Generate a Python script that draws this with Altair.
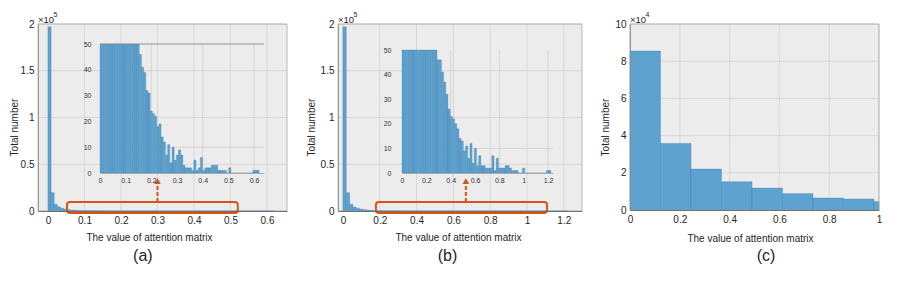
import altair as alt
import pandas as pd

# ---------------- data ----------------
# (a) histogram, bin width 0.0085
a_bin_width = 0.0085
a_counts = [197000, 19600, 7200, 4600, 2900, 2100, 1500, 1100, 800, 600,
            450, 340, 260, 200, 150, 115, 85, 62, 46, 41,
            39, 32, 31, 24, 23, 22, 18, 19, 14, 12,
            7, 11, 4, 10, 5, 7, 9, 7, 3, 2,
            2, 2, 1, 5, 1, 2, 6, 1, 2, 2,
            2, 3, 3, 3, 1, 1, 1, 1, 0, 2,
            0, 0, 0, 0, 0, 0, 0, 0, 0, 0,
            1, 1, 1]
# (b) histogram, bin width 0.018
b_bin_width = 0.018
b_counts = [197000, 19600, 7200, 4200, 2800, 2000, 1400, 1000, 700, 500,
            360, 260, 190, 140, 100, 70, 46, 46, 41, 37,
            32, 26, 23, 22, 20, 18, 14, 13, 9, 11,
            6, 12, 4, 10, 3, 7, 3, 3, 2, 2,
            2, 7, 1, 6, 2, 2, 2, 3, 3, 2,
            1, 1, 1, 0, 0, 2, 0, 0, 0, 0,
            0, 0, 0, 0, 0, 0, 1, 1]
# (c) histogram
c_edges = [0, 0.1225, 0.245, 0.3675, 0.49, 0.6125, 0.735, 0.8575, 0.98, 1.1025]
c_counts = [85500, 35800, 22000, 15200, 11800, 8800, 6450, 5900, 4500]

# tick values
a_xticks = [0, 0.1, 0.2, 0.3, 0.4, 0.5, 0.6]
b_xticks = [0, 0.2, 0.4, 0.6, 0.8, 1.0, 1.2]
c_xticks = [0, 0.2, 0.4, 0.6, 0.8, 1.0]
ab_yticks = [0, 50000, 100000, 150000, 200000]
c_yticks = [0, 20000, 40000, 60000, 80000, 100000]
inset_yticks = [0, 10, 20, 30, 40, 50]
a_inset_grid = [0.2, 0.4, 0.6]
b_inset_grid = [0.4, 0.8, 1.2]

# annotation boxes / arrows (data units of the main panels)
a_box = [0.052, 0.52, -2100, 9600]
b_box = [0.179, 1.109, -2100, 9600]
a_arrow = [0.30, 9600, 29000, 32000]
b_arrow = [0.668, 9600, 29000, 32000]
panel_labels = ["(a)", "(b)", "(c)"]
exponents = ["5", "5", "4"]

# ---------------- styling / layout ----------------
FONT = "Liberation Sans"
BAR_FILL = "#5ea3d0"
BAR_EDGE = "#2f6f9f"
BG = "#ececec"
GRID = "#d3d3d3"
ORANGE = "#d95319"
TXT = "#262626"
H = 267
NUM = "'' + datum.value"


def bars_df(counts, width):
    return pd.DataFrame({
        "x0": [i * width for i in range(len(counts))],
        "x1": [(i + 1) * width for i in range(len(counts))],
        "count": counts,
    })


def main_panel(bars, xdom, xr, ydom, yr, xticks, yticks, ydiv, ytitle_dx,
               xtitle_x, xtitle_y, label, label_xy, expo, box=None, arrow=None,
               clampx=False):
    xs = alt.Scale(domain=xdom, range=xr, nice=False, zero=False, clamp=clampx)
    ys = alt.Scale(domain=ydom, range=yr, nice=False, zero=False)
    xaxis = alt.Axis(orient="bottom", offset=yr[0] - H, values=xticks, labelExpr=NUM,
                     title="The value of attention matrix", titleX=xtitle_x, titleY=xtitle_y,
                     titleBaseline="middle", titleAlign="center", titleAngle=0,
                     titleFontSize=10, titleFontWeight="normal", titleColor=TXT, titleFont=FONT,
                     labelFontSize=10, labelColor=TXT, labelFont=FONT, labelPadding=4,
                     labelFlush=False, labelOverlap=False, ticks=False, grid=False,
                     domainColor="#5a5a5a", domainWidth=0.8, zindex=1)
    yaxis = alt.Axis(orient="left", offset=-xr[0], values=yticks,
                     labelExpr=f"'' + (datum.value / {ydiv})",
                     title="Total number", titleX=ytitle_dx, titleY=119,
                     titleAngle=270, titleBaseline="middle", titleAlign="center",
                     titleFontSize=10, titleFontWeight="normal", titleColor=TXT, titleFont=FONT,
                     labelFontSize=10, labelColor=TXT, labelFont=FONT, labelPadding=4,
                     labelFlush=False, labelOverlap=False, ticks=False, grid=False,
                     domainColor="#8a8a8a", domainWidth=0.8, zindex=1)
    X = lambda f: alt.X(f, type="quantitative", scale=xs, axis=xaxis)
    Y = lambda f: alt.Y(f, type="quantitative", scale=ys, axis=yaxis)

    frame = pd.DataFrame({"x": [xdom[0]], "x2": [xdom[1]], "y": [ydom[0]], "y2": [ydom[1]]})
    bg = alt.Chart(frame).mark_rect(fill=BG).encode(x=X("x"), x2="x2", y=Y("y"), y2="y2")
    vg = alt.Chart(pd.DataFrame({"x": xticks, "y": ydom[0], "y2": ydom[1]})).mark_rule(
        color=GRID, strokeWidth=0.8).encode(x=X("x"), y=Y("y"), y2="y2")
    hg = alt.Chart(pd.DataFrame({"y": yticks, "x": xdom[0], "x2": xdom[1]})).mark_rule(
        color=GRID, strokeWidth=0.8).encode(y=Y("y"), x=X("x"), x2="x2")
    box_r = alt.Chart(frame).mark_rect(fillOpacity=0, stroke="#a0a0a0", strokeWidth=0.7).encode(
        x=X("x"), x2="x2", y=Y("y"), y2="y2")
    br = alt.Chart(bars.rename(columns={"x0": "x", "count": "y"})).mark_rect(
        fill=BAR_FILL, stroke=BAR_EDGE, strokeWidth=0.3).encode(
        x=X("x"), x2="x1", y=Y("y"), y2=alt.datum(0))

    exp_df = pd.DataFrame({"x": [xdom[0]], "y": [ydom[1]]})
    exp1 = alt.Chart(exp_df).mark_text(text="\u00d710", align="left", baseline="alphabetic",
                                       dy=-1.5, dx=0, fontSize=9.5, font=FONT, color=TXT).encode(
        x=X("x"), y=Y("y"))
    exp2 = alt.Chart(exp_df).mark_text(text=expo, align="left",
                                       baseline="alphabetic", dy=-7, dx=15.5, fontSize=7,
                                       font=FONT, color=TXT).encode(x=X("x"), y=Y("y"))
    lab = alt.Chart(pd.DataFrame({"x": [label_xy[0]], "y": [label_xy[1]], "t": [label]})).mark_text(
        align="center", baseline="middle", fontSize=16, font=FONT, color=TXT).encode(
        x=X("x"), y=Y("y"), text="t:N")
    layers = [bg, vg, hg, br, box_r, exp1, exp2, lab]
    if box is not None:
        bdf = pd.DataFrame({"x": [box[0]], "x2": [box[1]], "y": [box[2]], "y2": [box[3]]})
        layers.append(alt.Chart(bdf).mark_rect(fillOpacity=0, stroke=ORANGE, strokeWidth=2,
                                               cornerRadius=3).encode(
            x=X("x"), x2="x2", y=Y("y"), y2="y2"))
    if arrow is not None:
        adf = pd.DataFrame({"x": [arrow[0]], "y": [arrow[1]], "y2": [arrow[2]]})
        hdf = pd.DataFrame({"x": [arrow[0]], "y": [arrow[3]]})
        layers.append(alt.Chart(adf).mark_rule(color=ORANGE, strokeWidth=2, strokeDash=[4, 2]).encode(
            x=X("x"), y=Y("y"), y2="y2"))
        layers.append(alt.Chart(hdf).mark_point(shape="triangle-up", filled=True, size=45,
                                                color=ORANGE, opacity=1).encode(x=X("x"), y=Y("y")))
    return alt.layer(*layers)


def inset_panel(bars, xdom, xr, yr, xticks, gridx, ylabpad, top_line):
    xs = alt.Scale(domain=xdom, range=xr, nice=False, zero=False, clamp=True)
    ys = alt.Scale(domain=[0, 50], range=yr, nice=False, zero=False, clamp=True)
    xaxis = alt.Axis(orient="bottom", offset=yr[0] - H, values=xticks, labelExpr=NUM, title=None,
                     labelFontSize=7, labelColor="#333333", labelFont=FONT, labelPadding=3,
                     labelFlush=False, labelOverlap=False, ticks=False, grid=False,
                     domainColor="#a0a0a0", domainWidth=0.8, zindex=2)
    yaxis = alt.Axis(orient="left", offset=-xr[0], values=inset_yticks, labelExpr=NUM, title=None,
                     labelFontSize=7, labelColor="#333333", labelFont=FONT, labelPadding=ylabpad,
                     labelFlush=False, labelOverlap=False, ticks=False, grid=False, domain=False,
                     zindex=2)
    X = lambda f: alt.X(f, type="quantitative", scale=xs, axis=xaxis)
    Y = lambda f: alt.Y(f, type="quantitative", scale=ys, axis=yaxis)
    vg = alt.Chart(pd.DataFrame({"x": gridx, "y": 0, "y2": 50})).mark_rule(
        color="#cfcfcf", strokeWidth=0.8).encode(x=X("x"), y=Y("y"), y2="y2")
    hg = alt.Chart(pd.DataFrame({"y": [10], "x": xdom[0], "x2": xdom[1]})).mark_rule(
        color="#cfcfcf", strokeWidth=0.8).encode(y=Y("y"), x=X("x"), x2="x2")
    br = alt.Chart(bars.rename(columns={"x0": "x", "count": "y"})).mark_rect(
        fill=BAR_FILL, stroke=BAR_EDGE, strokeWidth=0.25).encode(
        x=X("x"), x2="x1", y=Y("y"), y2=alt.datum(0))
    layers = [vg, hg, br]
    if top_line:
        layers.append(alt.Chart(pd.DataFrame({"y": [50], "x": xdom[0], "x2": xdom[1]})).mark_rule(
            color="#8c8c8c", strokeWidth=0.9).encode(y=Y("y"), x=X("x"), x2="x2"))
    return alt.layer(*layers)


a_df = bars_df(a_counts, a_bin_width)
b_df = bars_df(b_counts, b_bin_width)
c_df = pd.DataFrame({"x0": c_edges[:-1], "x1": c_edges[1:], "count": c_counts})

A = main_panel(a_df, [-0.0274, 0.6548], [30, 279], [0, 200000], [203, 16], a_xticks, ab_yticks,
               100000, -24, 141, 26, panel_labels[0], [0.26, -48100], exponents[0], a_box, a_arrow)
A_in = inset_panel(a_df, [0, 0.639], [92, 256], [165, 36], a_xticks, a_inset_grid, 9, True)
B = main_panel(b_df, [-0.027, 1.299], [330, 574], [0, 200000], [203, 16], b_xticks, ab_yticks,
               100000, -27, 450, 26, panel_labels[1], [0.568, -48100], exponents[1], b_box, b_arrow)
B_in = inset_panel(b_df, [0, 1.241], [394, 545], [165, 42], b_xticks, b_inset_grid, 11, False)
C = main_panel(c_df, [0, 1], [622, 871], [0, 100000], [202, 16], c_xticks, c_yticks,
               10000, -25, 742, 28, panel_labels[2], [0.546, -24700], exponents[2], clampx=True)

chart = alt.layer(A, A_in, B, B_in, C).resolve_scale(
    x="independent", y="independent").properties(
    width=884, height=H, padding=0, autosize=alt.AutoSizeParams(type="none"),
    background="white").configure_view(stroke="transparent")

chart.save("out.html", embed_options={"renderer": "svg", "actions": False})
